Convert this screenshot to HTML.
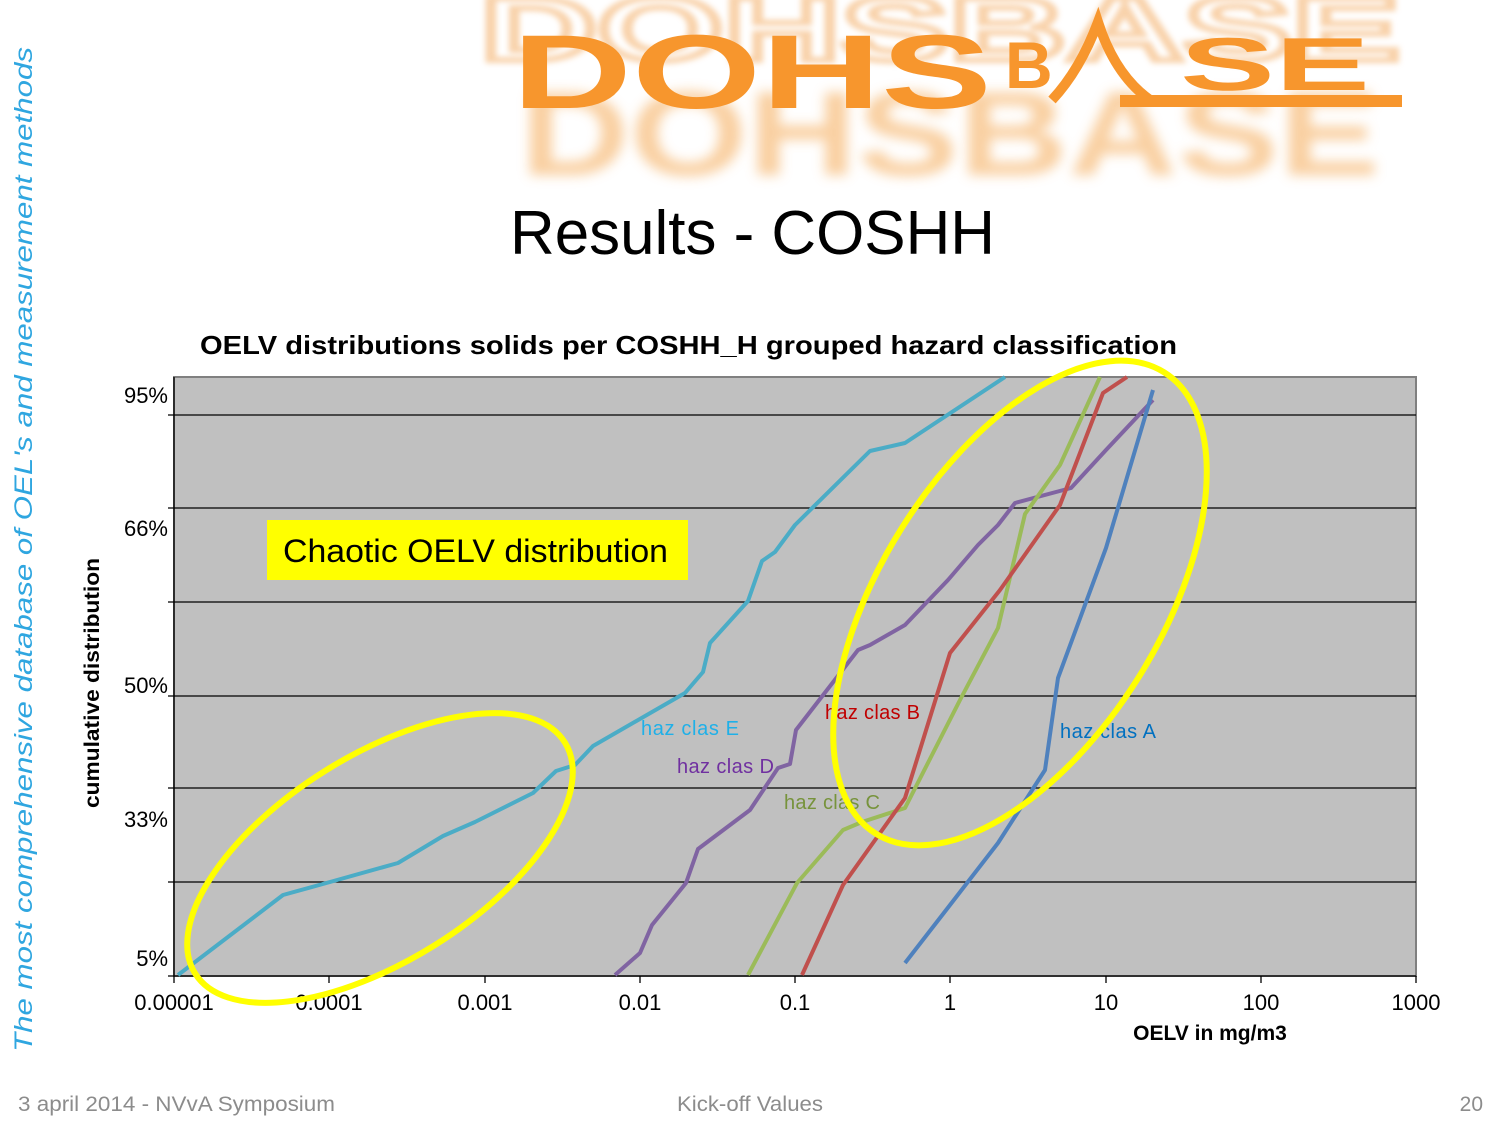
<!DOCTYPE html>
<html><head><meta charset="utf-8"><style>
html,body{margin:0;padding:0;background:#fff;}
body{width:1500px;height:1125px;overflow:hidden;position:relative;}
</style></head><body>
<svg width="1500" height="1125" viewBox="0 0 1500 1125" xmlns="http://www.w3.org/2000/svg" style="position:absolute;left:0;top:0">
<defs>
<filter id="bl" x="-10%" y="-30%" width="120%" height="160%"><feGaussianBlur stdDeviation="6"/></filter>
<filter id="bl2" x="-10%" y="-30%" width="120%" height="160%"><feGaussianBlur stdDeviation="3"/></filter>
</defs>
<g font-family="Liberation Sans, sans-serif" font-weight="bold">
<text x="520" y="175" font-size="120" fill="#f8c48a" opacity="0.8" filter="url(#bl)" textLength="860" lengthAdjust="spacingAndGlyphs">DOHSBASE</text>
<text x="480" y="60" font-size="90" fill="none" stroke="#f6c088" stroke-width="6" opacity="0.7" filter="url(#bl2)" textLength="920" lengthAdjust="spacingAndGlyphs">DOHSBASE</text>
<text x="512" y="108" font-size="105" fill="#f7962d" textLength="480" lengthAdjust="spacingAndGlyphs">DOHS</text>
<text x="1005" y="88" font-size="66" fill="#f7962d">B</text>
<path d="M1052 100 Q1080 70 1098 22 Q1115 75 1150 100" stroke="#f7962d" stroke-width="10" fill="none"/>
<text x="1180" y="90" font-size="75" fill="#f7962d" textLength="190" lengthAdjust="spacingAndGlyphs">SE</text>
<rect x="1120" y="95" width="282" height="12" fill="#f7962d"/>
</g>
<text transform="translate(32,1052) rotate(-90)" font-family="Liberation Sans, sans-serif" font-style="italic" font-size="25" fill="#2fa6e0" textLength="1005" lengthAdjust="spacingAndGlyphs">The most  comprehensive database of OEL's and measurement methods</text>
<text x="510" y="254" font-family="Liberation Sans, sans-serif" font-size="62" fill="#000" textLength="485" lengthAdjust="spacingAndGlyphs">Results - COSHH</text>
<text x="200" y="354" font-family="Liberation Sans, sans-serif" font-weight="bold" font-size="26" fill="#000" textLength="977" lengthAdjust="spacingAndGlyphs">OELV distributions solids per COSHH_H grouped hazard classification</text>
<rect x="174" y="377" width="1242" height="599" fill="#c0c0c0" stroke="#808080" stroke-width="2"/>
<g stroke="#000" stroke-width="1.3">
<line x1="168" y1="415" x2="1416" y2="415"/><line x1="168" y1="508" x2="1416" y2="508"/><line x1="168" y1="602" x2="1416" y2="602"/><line x1="168" y1="696" x2="1416" y2="696"/><line x1="168" y1="788" x2="1416" y2="788"/><line x1="168" y1="882" x2="1416" y2="882"/>
<line x1="174" y1="377" x2="174" y2="976"/><line x1="168" y1="976" x2="1416" y2="976"/>
<line x1="174" y1="976" x2="174" y2="983"/><line x1="329" y1="976" x2="329" y2="983"/><line x1="485" y1="976" x2="485" y2="983"/><line x1="640" y1="976" x2="640" y2="983"/><line x1="795" y1="976" x2="795" y2="983"/><line x1="950" y1="976" x2="950" y2="983"/><line x1="1106" y1="976" x2="1106" y2="983"/><line x1="1261" y1="976" x2="1261" y2="983"/><line x1="1416" y1="976" x2="1416" y2="983"/>
</g>
<g font-family="Liberation Sans, sans-serif" font-size="22" fill="#000" text-anchor="end">
<text x="168" y="403">95%</text><text x="168" y="536">66%</text><text x="168" y="693">50%</text><text x="168" y="827">33%</text><text x="168" y="966">5%</text>
</g>
<g font-family="Liberation Sans, sans-serif" font-size="22" fill="#000" text-anchor="middle">
<text x="174" y="1010">0.00001</text><text x="329" y="1010">0.0001</text><text x="485" y="1010">0.001</text><text x="640" y="1010">0.01</text><text x="795" y="1010">0.1</text><text x="950" y="1010">1</text><text x="1106" y="1010">10</text><text x="1261" y="1010">100</text><text x="1416" y="1010">1000</text>
</g>
<text x="1210" y="1040" text-anchor="middle" font-family="Liberation Sans, sans-serif" font-weight="bold" font-size="21">OELV in mg/m3</text>
<text transform="translate(99,683) rotate(-90)" text-anchor="middle" font-family="Liberation Sans, sans-serif" font-weight="bold" font-size="21" textLength="250" lengthAdjust="spacingAndGlyphs">cumulative distribution</text>
<g fill="none" stroke-width="4" stroke-linejoin="round">
<polyline stroke="#4bacc6" points="178,975 283,895 330,882 398,863 443,836 475,822 533,793 556,771 575,765 593,746 685,693 703,672 710,643 748,601 762,561 775,552 795,525 870,451 905,443 1005,377"/>
<polyline stroke="#8064a2" points="615,975 640,953 652,925 686,883 698,849 750,810 778,768 790,764 796,730 858,650 870,645 905,625 948,580 978,545 998,525 1015,503 1071,488 1106,450 1153,400"/>
<polyline stroke="#9bbb59" points="748,975 797,883 843,830 862,822 905,808 960,700 998,628 1025,514 1060,465 1100,377"/>
<polyline stroke="#c0504d" points="802,975 843,885 905,798 950,653 1000,590 1060,505 1103,393 1127,377"/>
<polyline stroke="#4f81bd" points="905,963 950,905 998,843 1045,770 1058,678 1106,548 1153,390"/>
</g>
<g font-family="Liberation Sans, sans-serif" font-size="20">
<text x="641" y="735" fill="#1fb0e8" textLength="98" lengthAdjust="spacing">haz  clas  E</text>
<text x="677" y="773" fill="#7030a0" textLength="97" lengthAdjust="spacing">haz  clas D</text>
<text x="825" y="719" fill="#c00000" textLength="95" lengthAdjust="spacing">haz  clas B</text>
<text x="784" y="809" fill="#77933c" textLength="96" lengthAdjust="spacing">haz  clas C</text>
<text x="1060" y="738" fill="#0070c0" textLength="96" lengthAdjust="spacing">haz  clas A</text>
</g>
<rect x="267" y="520" width="421" height="60" fill="#ffff00"/>
<text x="283" y="562" font-family="Liberation Sans, sans-serif" font-size="32" fill="#000" textLength="385" lengthAdjust="spacingAndGlyphs">Chaotic OELV distribution</text>
<g fill="none" stroke="#ffff00" stroke-width="6">
<ellipse cx="380" cy="858" rx="218" ry="103" transform="rotate(-32 380 858)"/>
<ellipse cx="1020" cy="603" rx="272" ry="140" transform="rotate(-58 1020 603)"/>
</g>
<g font-family="Liberation Sans, sans-serif" font-size="21" fill="#8c8c8c">
<text x="18" y="1111" textLength="317" lengthAdjust="spacingAndGlyphs">3 april 2014 - NVvA Symposium</text>
<text x="677" y="1111" textLength="146" lengthAdjust="spacingAndGlyphs">Kick-off Values</text>
<text x="1483" y="1111" text-anchor="end">20</text>
</g>
</svg>
</body></html>
